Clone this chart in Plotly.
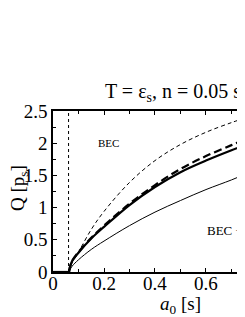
import plotly.graph_objects as go

# data
a0 = [0.063, 0.066, 0.075, 0.1, 0.15, 0.2, 0.3, 0.4, 0.5, 0.6, 0.7, 0.76]
q_thin_dashed = [0.0, 0.05, 0.14, 0.31, 0.66, 0.94, 1.39, 1.73, 1.98, 2.17, 2.32, 2.40]
q_thick_dashed = [0.0, 0.07, 0.17, 0.31, 0.53, 0.72, 1.06, 1.35, 1.60, 1.80, 1.97, 2.07]
q_thick_solid = [0.0, 0.07, 0.17, 0.30, 0.52, 0.70, 1.04, 1.32, 1.55, 1.73, 1.89, 1.98]
q_thin_solid = [0.0, 0.03, 0.09, 0.19, 0.35, 0.48, 0.72, 0.93, 1.11, 1.28, 1.43, 1.53]
zero_a0 = [0.0, 0.063]
zero_q = [0.0, 0.0]
a_crit = 0.061
dotted_q = [0.0, 2.5]

x_ticks = [0, 0.2, 0.4, 0.6]
x_labels = ["0", "0.2", "0.4", "0.6"]
y_ticks = [0, 0.5, 1, 1.5, 2, 2.5]
y_labels = ["0", "0.5", "1", "1.5", "2", "2.5"]

FONT = "Liberation Serif, Times New Roman, DejaVu Serif, serif"

# page body has an 8px margin: figure origin sits at (8, 8) on screen
OFF = 8
L, T, R_SCREEN, B_SCREEN = 53, 111, 245, 272
W = 245 - OFF
H = 317 - OFF

fig = go.Figure()
fig.add_trace(go.Scatter(x=[a_crit, a_crit], y=dotted_q, mode="lines",
                         line=dict(color="black", width=1, dash="dot")))
fig.add_trace(go.Scatter(x=a0, y=q_thin_dashed, mode="lines", line_shape="spline",
                         line=dict(color="black", width=1, dash="4px,3px")))
fig.add_trace(go.Scatter(x=a0, y=q_thin_solid, mode="lines", line_shape="spline",
                         line=dict(color="black", width=1)))
fig.add_trace(go.Scatter(x=a0, y=q_thick_solid, mode="lines", line_shape="spline",
                         line=dict(color="black", width=2.2)))
fig.add_trace(go.Scatter(x=a0, y=q_thick_dashed, mode="lines", line_shape="spline",
                         line=dict(color="black", width=2.2, dash="8px,4px")))
fig.add_trace(go.Scatter(x=zero_a0, y=zero_q, mode="lines",
                         line=dict(color="black", width=2.2)))

fig.update_layout(
    width=W, height=H,
    margin=dict(l=L - OFF, r=0, t=T - OFF, b=H - (B_SCREEN - OFF), pad=0),
    paper_bgcolor="white", plot_bgcolor="white",
    showlegend=False,
    font=dict(family=FONT, size=19, color="black"),
    xaxis=dict(range=[0, 0.753], tickvals=x_ticks, ticktext=x_labels,
               ticks="inside", ticklen=4, tickcolor="black", ticklabelstandoff=-7,
               minor=dict(dtick=0.1, ticks="inside", ticklen=3, tickcolor="black"),
               showline=True, linecolor="black", linewidth=1.5, mirror="ticks",
               showgrid=False, zeroline=False),
    yaxis=dict(range=[0, 2.5], tickvals=y_ticks, ticktext=y_labels,
               ticks="inside", ticklen=4, tickcolor="black",
               minor=dict(dtick=0.25, ticks="inside", ticklen=3, tickcolor="black"),
               showline=True, linecolor="black", linewidth=1.5, mirror=False,
               showgrid=False, zeroline=False),
)

PW = R_SCREEN - L
PH = B_SCREEN - T

def px_x(p):
    return (p - L) / PW

def px_y(p):
    return (B_SCREEN - p) / PH

ann = [
    dict(text="T = ε<sub>s</sub>, n = 0.05 s", x=px_x(103), y=px_y(92), xanchor="left",
         yanchor="middle", font=dict(size=20)),
    dict(text="<i>a</i><sub>0</sub> [s]", x=px_x(180), y=px_y(305), xanchor="center",
         yanchor="middle", font=dict(size=19)),
    dict(text="Q [p<sub>s</sub>]", x=px_x(19), y=px_y(188), textangle=-90,
         xanchor="center", yanchor="middle", font=dict(size=19)),
    dict(text="BEC", x=px_x(108), y=px_y(143), xanchor="center", yanchor="middle",
         font=dict(size=11)),
    dict(text="BEC +", x=px_x(205), y=px_y(230), xanchor="left", yanchor="middle",
         font=dict(size=13)),
]
for a in ann:
    a.update(xref="paper", yref="paper", showarrow=False)
    fig.add_annotation(**a)

fig.write_html("out.html")
